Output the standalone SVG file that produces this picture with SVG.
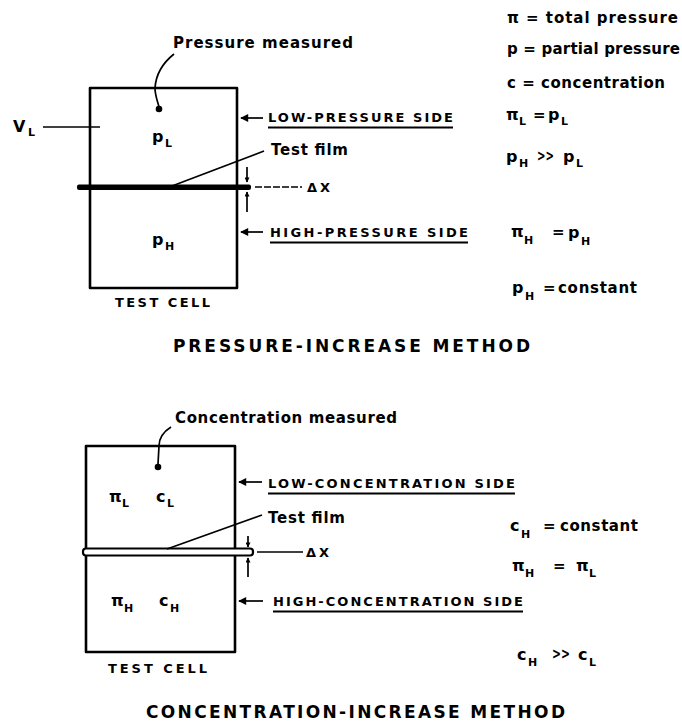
<svg xmlns="http://www.w3.org/2000/svg" width="682" height="725" viewBox="0 0 682 725">
<style>
.t{font-family:"DejaVu Sans","Liberation Sans",Arial,sans-serif;font-weight:bold;fill:#000}
.m{font-size:15px}
.g{font-size:16px}
.s{font-size:11px}
.c{font-size:13px}
.ti{font-size:17px}
.box{fill:none;stroke:#000;stroke-width:2.6;stroke-linejoin:round}
.ln{fill:none;stroke:#000;stroke-width:1.7}
.ul{stroke:#000;stroke-width:2}
</style>
<defs>
<marker id="ah" viewBox="0 0 10 10" refX="9" refY="5" markerWidth="9" markerHeight="8" markerUnits="userSpaceOnUse" orient="auto">
<path d="M0,0 L10,5 L0,10 Z" fill="#000"/>
</marker>
<marker id="sa" viewBox="0 0 10 10" refX="9" refY="5" markerWidth="6" markerHeight="5" markerUnits="userSpaceOnUse" orient="auto">
<path d="M0,0 L10,5 L0,10 Z" fill="#000"/>
</marker>
</defs>
<rect width="682" height="725" fill="#fff"/>

<!-- ===== Pressure-increase method ===== -->
<g id="cell-top">
<rect class="box" x="90" y="88" width="147" height="200"/>
<rect x="77" y="184.5" width="174" height="5.5" rx="2" fill="#000"/>
<text class="t c" x="115" y="307" textLength="95" lengthAdjust="spacing">TEST CELL</text>
</g>
<g id="p-low-top">
<text class="t g" x="152" y="142">p</text><text class="t s" x="165" y="147">L</text>
</g>
<g id="p-high-top">
<text class="t g" x="152" y="245">p</text><text class="t s" x="165" y="250">H</text>
</g>
<g id="vl">
<text class="t g" x="13" y="132">V</text><text class="t s" x="28" y="136">L</text>
</g>
<g id="pressure-measured">
<text class="t m" x="173" y="48" textLength="180" lengthAdjust="spacing">Pressure measured</text>
<circle cx="159" cy="109" r="3.3" fill="#000"/>
</g>
<g id="low-pressure-side">
<text class="t c" x="268" y="122" textLength="185" lengthAdjust="spacing">LOW-PRESSURE SIDE</text>
<line class="ul" x1="268" y1="127.5" x2="453" y2="127.5"/>
</g>
<g id="test-film-top">
<text class="t m" x="271" y="155" textLength="77" lengthAdjust="spacing">Test film</text>
</g>
<g id="dx-top">
<text class="t c" x="307" y="192" textLength="23" lengthAdjust="spacing">ΔX</text>
</g>
<g id="high-pressure-side">
<text class="t c" x="270" y="237" textLength="198" lengthAdjust="spacing">HIGH-PRESSURE SIDE</text>
<line class="ul" x1="270" y1="242.5" x2="468" y2="242.5"/>
</g>
<g id="title-top">
<text class="t ti" x="173" y="352" textLength="357" lengthAdjust="spacing">PRESSURE-INCREASE METHOD</text>
</g>
<g id="legend">
<text class="t m" x="507" y="23" textLength="171" lengthAdjust="spacing">π = total pressure</text>
<text class="t m" x="507" y="54" textLength="173" lengthAdjust="spacing">p = partial pressure</text>
<text class="t m" x="507" y="88" textLength="158" lengthAdjust="spacing">c = concentration</text>
</g>
<g id="eq-top-1">
<text class="t g" x="506" y="120">π</text><text class="t s" x="519" y="125">L</text>
<text class="t m" x="533" y="120">=</text>
<text class="t g" x="548" y="120">p</text><text class="t s" x="561" y="125">L</text>
</g>
<g id="eq-top-2">
<text class="t g" x="506" y="162">p</text><text class="t s" x="519" y="167">H</text>
<text class="t m" x="537" y="161" textLength="17" lengthAdjust="spacingAndGlyphs">&gt;&gt;</text>
<text class="t g" x="563" y="162">p</text><text class="t s" x="576" y="167">L</text>
</g>
<g id="eq-top-3">
<text class="t g" x="511" y="237">π</text><text class="t s" x="524" y="244">H</text>
<text class="t m" x="552" y="237">=</text>
<text class="t g" x="568" y="238">p</text><text class="t s" x="581" y="245">H</text>
</g>
<g id="eq-top-4">
<text class="t g" x="512" y="293">p</text><text class="t s" x="525" y="300">H</text>
<text class="t m" x="543" y="293">=</text>
<text class="t m" x="558" y="293" textLength="79" lengthAdjust="spacing">constant</text>
</g>

<!-- ===== Concentration-increase method ===== -->
<g id="cell-bottom">
<rect class="box" x="86" y="446" width="149" height="206"/>
<rect x="83" y="548.5" width="170" height="7" rx="3" fill="#fff" stroke="#000" stroke-width="2.2"/>
<text class="t c" x="108" y="673" textLength="99" lengthAdjust="spacing">TEST CELL</text>
</g>
<g id="low-c-inside">
<text class="t g" x="109" y="502">π</text><text class="t s" x="122" y="507">L</text>
<text class="t g" x="156" y="502">c</text><text class="t s" x="167" y="507">L</text>
</g>
<g id="high-c-inside">
<text class="t g" x="111" y="606">π</text><text class="t s" x="124" y="612">H</text>
<text class="t g" x="159" y="606">c</text><text class="t s" x="170" y="612">H</text>
</g>
<g id="concentration-measured">
<text class="t m" x="175" y="423" textLength="222" lengthAdjust="spacing">Concentration measured</text>
<circle cx="158" cy="467" r="3.3" fill="#000"/>
</g>
<g id="low-concentration-side">
<text class="t c" x="268" y="488" textLength="247" lengthAdjust="spacing">LOW-CONCENTRATION SIDE</text>
<line class="ul" x1="268" y1="493.5" x2="515" y2="493.5"/>
</g>
<g id="test-film-bottom">
<text class="t m" x="268" y="523" textLength="77" lengthAdjust="spacing">Test film</text>
</g>
<g id="dx-bottom">
<text class="t c" x="306" y="557" textLength="23" lengthAdjust="spacing">ΔX</text>
</g>
<g id="high-concentration-side">
<text class="t c" x="273" y="606" textLength="250" lengthAdjust="spacing">HIGH-CONCENTRATION SIDE</text>
<line class="ul" x1="273" y1="611.5" x2="523" y2="611.5"/>
</g>
<g id="eq-bot-1">
<text class="t g" x="510" y="531">c</text><text class="t s" x="521" y="538">H</text>
<text class="t m" x="543" y="531">=</text>
<text class="t m" x="560" y="531" textLength="78" lengthAdjust="spacing">constant</text>
</g>
<g id="eq-bot-2">
<text class="t g" x="512" y="571">π</text><text class="t s" x="525" y="577">H</text>
<text class="t m" x="553" y="571">=</text>
<text class="t g" x="576" y="571">π</text><text class="t s" x="589" y="577">L</text>
</g>
<g id="eq-bot-3">
<text class="t g" x="517" y="660">c</text><text class="t s" x="528" y="666">H</text>
<text class="t m" x="552" y="659" textLength="18" lengthAdjust="spacingAndGlyphs">&gt;&gt;</text>
<text class="t g" x="578" y="660">c</text><text class="t s" x="589" y="666">L</text>
</g>
<g id="title-bottom">
<text class="t ti" x="146" y="718" textLength="419" lengthAdjust="spacing">CONCENTRATION-INCREASE METHOD</text>
</g>

<!-- ===== Connectors ===== -->
<g id="connectors">
<path class="ln" d="M174,54 C164,62 156,72 155,88 C155,96 158,102 159,107"/>
<line class="ln" x1="43" y1="127" x2="100" y2="127"/>
<line class="ln" x1="263" y1="118" x2="241" y2="118" marker-end="url(#ah)" stroke-width="2"/>
<line class="ln" x1="264" y1="151" x2="172" y2="186"/>
<line class="ln" x1="247" y1="167" x2="247" y2="182" marker-end="url(#sa)"/>
<line class="ln" x1="247" y1="212" x2="247" y2="192" marker-end="url(#sa)"/>
<line class="ln" x1="255" y1="187" x2="302" y2="187" stroke-dasharray="7,2"/>
<line class="ln" x1="263" y1="232" x2="241" y2="232" marker-end="url(#ah)" stroke-width="2"/>

<path class="ln" d="M171,427 C163,432 159,438 159,446 L158,464"/>
<line class="ln" x1="262" y1="482" x2="239" y2="482" marker-end="url(#ah)" stroke-width="2"/>
<line class="ln" x1="262" y1="515" x2="167" y2="549"/>
<line class="ln" x1="248" y1="536" x2="248" y2="547" marker-end="url(#sa)"/>
<line class="ln" x1="248" y1="577" x2="248" y2="558" marker-end="url(#sa)"/>
<line class="ln" x1="257" y1="552" x2="303" y2="552"/>
<line class="ln" x1="263" y1="601" x2="239" y2="601" marker-end="url(#ah)" stroke-width="2"/>
</g>
</svg>
